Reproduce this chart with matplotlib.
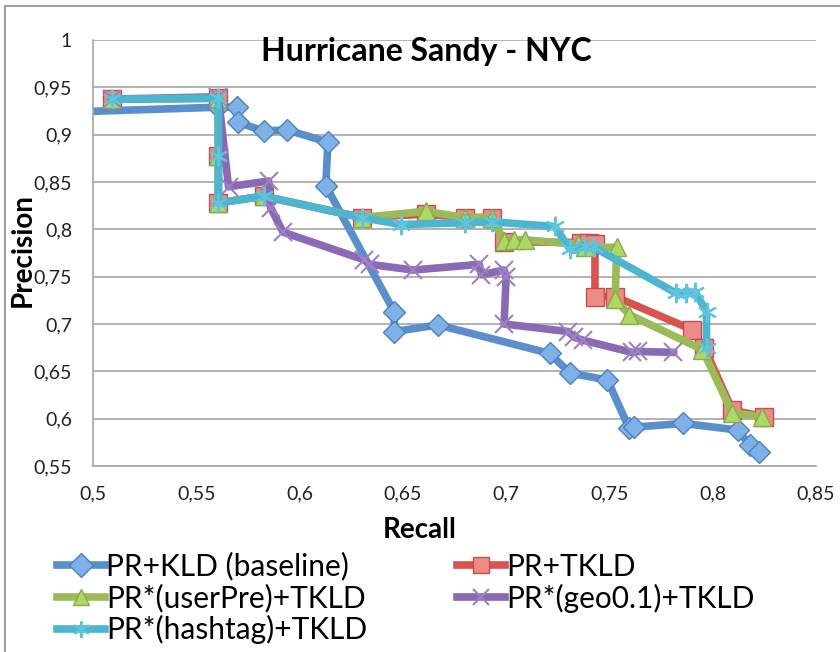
import numpy as np
import matplotlib
matplotlib.use("Agg")
import matplotlib.pyplot as plt
from matplotlib.ticker import FuncFormatter, MultipleLocator
from matplotlib.patches import Rectangle

plt.rcParams['font.family'] = ['Lato', 'DejaVu Sans']

# PR+KLD (baseline)
base_x = [0.49, 0.5607, 0.5695, 0.570, 0.5826, 0.594, 0.6137, 0.6127, 0.6458, 0.6458,
          0.667, 0.721, 0.731, 0.749, 0.7595, 0.762, 0.7857, 0.812, 0.818, 0.8226]
base_y = [0.924, 0.929, 0.929, 0.913, 0.904, 0.905, 0.892, 0.846, 0.713, 0.692,
          0.699, 0.669, 0.648, 0.641, 0.590, 0.591, 0.595, 0.588, 0.572, 0.565]

# PR+TKLD
tkld_x = [0.509, 0.5607, 0.5607, 0.5607, 0.5826, 0.630, 0.661, 0.680, 0.693, 0.699,
          0.736, 0.740, 0.743, 0.743, 0.7527, 0.790, 0.796, 0.8095, 0.825]
tkld_y = [0.9375, 0.9385, 0.877, 0.828, 0.835, 0.8125, 0.816, 0.8125, 0.8125, 0.787,
          0.786, 0.786, 0.784, 0.729, 0.729, 0.694, 0.675, 0.609, 0.602]

# PR*(userPre)+TKLD
user_x = [0.509, 0.5607, 0.5607, 0.5607, 0.5826, 0.630, 0.661, 0.680, 0.693, 0.699,
          0.704, 0.709, 0.735, 0.738, 0.7536, 0.7527, 0.7595, 0.795, 0.8095, 0.824]
user_y = [0.9375, 0.9385, 0.877, 0.828, 0.835, 0.8125, 0.819, 0.8125, 0.8125, 0.788,
          0.789, 0.789, 0.784, 0.781, 0.781, 0.726, 0.710, 0.673, 0.606, 0.602]

# PR*(geo0.1)+TKLD
geo_x = [0.509, 0.5607, 0.5656, 0.585, 0.586, 0.592, 0.631, 0.634, 0.655, 0.687,
         0.688, 0.699, 0.700, 0.699, 0.730, 0.733, 0.737, 0.761, 0.764, 0.781]
geo_y = [0.9375, 0.940, 0.845, 0.851, 0.823, 0.797, 0.768, 0.763, 0.757, 0.763,
         0.752, 0.757, 0.750, 0.700, 0.692, 0.686, 0.683, 0.670, 0.671, 0.670]

# PR*(hashtag)+TKLD
hash_x = [0.509, 0.5607, 0.5607, 0.5607, 0.5826, 0.630, 0.649, 0.680, 0.693, 0.7235,
          0.731, 0.738, 0.7425, 0.782, 0.787, 0.7915, 0.797, 0.797]
hash_y = [0.9375, 0.9385, 0.877, 0.828, 0.835, 0.8125, 0.805, 0.807, 0.808, 0.803,
          0.779, 0.782, 0.781, 0.733, 0.733, 0.734, 0.713, 0.675]

fig = plt.figure(figsize=(8.4, 6.52), dpi=100)
ax = fig.add_axes([93 / 840, 1 - 466 / 652, (816 - 93) / 840, (466 - 40) / 652])

lw = 5.5
h_base, = ax.plot(base_x, base_y, color='#5A8FCB', lw=lw, marker='D', ms=11,
                  mfc='#7DB1E8', mec='#4F81BD', mew=1, label='PR+KLD (baseline)')
h_tkld, = ax.plot(tkld_x, tkld_y, color='#D9544F', lw=lw, marker='s', ms=13,
                  mfc='#F08A85', mec='#C0504D', mew=1, label='PR+TKLD')
h_user, = ax.plot(user_x, user_y, color='#9BBB59', lw=lw, marker='^', ms=13,
                  mfc='#AED864', mec='#8AA84E', mew=1, label='PR*(userPre)+TKLD')
h_geo, = ax.plot(geo_x, geo_y, color='#8A6AB2', lw=lw, marker='x', ms=13,
                 mec='#9E80C4', mew=1.5, label='PR*(geo0.1)+TKLD')
h_hash, = ax.plot(hash_x, hash_y, color='#4CB6D0', lw=lw, marker=(6, 2, 0), ms=14,
                  mec='#5FC4DC', mew=1.5, label='PR*(hashtag)+TKLD')

ax.set_xlim(0.5, 0.85)
ax.set_ylim(0.55, 1.0)
ax.xaxis.set_major_locator(MultipleLocator(0.05))
ax.yaxis.set_major_locator(MultipleLocator(0.05))
fmt = FuncFormatter(lambda v, p: ('%g' % round(v, 3)).replace('.', ','))
ax.xaxis.set_major_formatter(fmt)
ax.yaxis.set_major_formatter(fmt)
ax.tick_params(length=0, labelsize=14, colors='#222222')
ax.tick_params(axis='y', pad=15)
ax.tick_params(axis='x', pad=14)
ax.grid(axis='y', color='#A6A6A6', lw=1.2)
ax.set_axisbelow(True)
for s in ['top', 'right']:
    ax.spines[s].set_visible(False)
for s in ['left', 'bottom']:
    ax.spines[s].set_color('#A6A6A6')
    ax.spines[s].set_linewidth(1.2)

fig.text(0.508, 1 - 52 / 652, 'Hurricane Sandy - NYC', ha='center', va='center',
         fontsize=23, fontweight='bold')
fig.text(23 / 840, 1 - 250 / 652, 'Precision', rotation=90, ha='center', va='center',
         fontsize=20, fontweight='bold')
fig.text(420 / 840, 1 - 530 / 652, 'Recall', ha='center', va='center',
         fontsize=20, fontweight='bold')

leg = fig.legend([h_base, h_user, h_hash, h_tkld, h_geo],
                 [h.get_label() for h in [h_base, h_user, h_hash, h_tkld, h_geo]],
                 ncol=2, loc='upper left', bbox_to_anchor=(42 / 840, 1 - 537 / 652),
                 frameon=False, fontsize=21.5, handlelength=1.6, handletextpad=0.05,
                 columnspacing=3.0, labelspacing=0.1, borderpad=0)
for h in leg.legend_handles:
    h.set_markersize(12)

fig.patches.append(Rectangle((5 / 840, -0.05), 1.2, 1.05 - 6 / 652, transform=fig.transFigure,
                             fill=False, edgecolor='#A0A0A0', lw=1.5))

fig.savefig('out.png', dpi=100)
